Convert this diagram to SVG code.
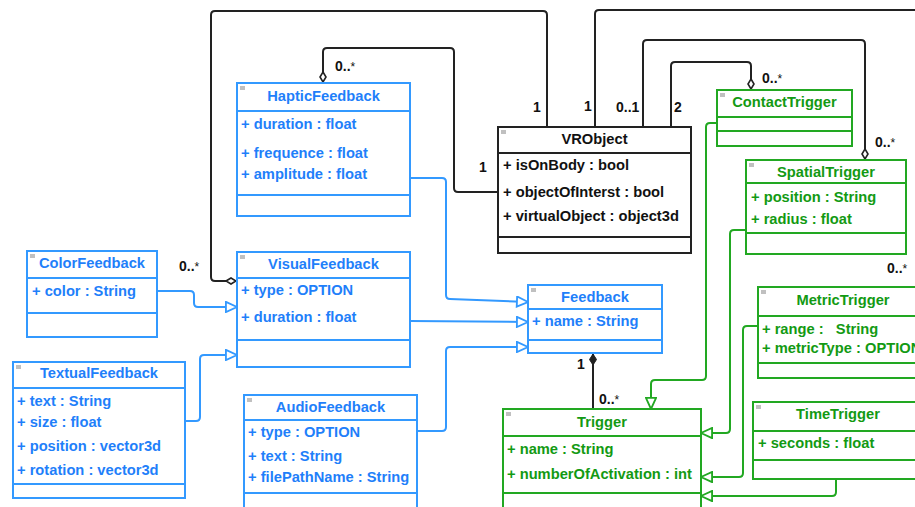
<svg xmlns="http://www.w3.org/2000/svg" width="915" height="507" viewBox="0 0 915 507">
<style>
text{font-family:"Liberation Sans",Arial,sans-serif;font-weight:bold;font-size:14.7px}
.b rect.box,.b line{stroke:#3399ff;stroke-width:2;fill:#fff}
.g rect.box,.g line{stroke:#22a822;stroke-width:2;fill:#fff}
.k rect.box,.k line{stroke:#222;stroke-width:2;fill:#fff}
.b text{fill:#1f7ffa}
.g text{fill:#139a13}
.k text{fill:#111}
.t{text-anchor:middle}
.ic{fill:#c0c0c0;stroke:none}
.cb{fill:none;stroke:#3399ff;stroke-width:2}
.cg{fill:none;stroke:#22a822;stroke-width:2}
.ck{fill:none;stroke:#222;stroke-width:2}
.m{font-size:14px;fill:#111}
.m tspan{font-weight:normal;font-size:12px}
</style>
<defs>
<marker id="tb" markerUnits="userSpaceOnUse" markerWidth="14" markerHeight="12" refX="12" refY="5.5" orient="auto" viewBox="-1 -1 14 13"><path d="M0,0 L12,5.5 L0,11 Z" fill="#fff" stroke="#3399ff" stroke-width="2"/></marker>
<marker id="tg" markerUnits="userSpaceOnUse" markerWidth="14" markerHeight="12" refX="12" refY="5.5" orient="auto" viewBox="-1 -1 14 13"><path d="M0,0 L12,5.5 L0,11 Z" fill="#fff" stroke="#22a822" stroke-width="2"/></marker>
<marker id="dh" markerUnits="userSpaceOnUse" markerWidth="12" markerHeight="8" refX="10" refY="3" orient="auto" viewBox="-1 -1 12 8"><path d="M0,3 L5,0 L10,3 L5,6 Z" fill="#fff" stroke="#222" stroke-width="1.6"/></marker>
<marker id="df" markerUnits="userSpaceOnUse" markerWidth="13" markerHeight="9" refX="11" refY="3.5" orient="auto" viewBox="-1 -1 13 9"><path d="M0,3.5 L5.5,0 L11,3.5 L5.5,7 Z" fill="#222" stroke="#222" stroke-width="1"/></marker>
</defs>

<g id="connectors">
<path class="ck" d="M547,127 V15 Q547,11 543,11 H215 Q211,11 211,15 V277 Q211,281 215,281 H236" marker-end="url(#dh)"/>
<path class="ck" d="M498,192 H458 Q454,192 454,188 V52 Q454,48 450,48 H327 Q323,48 323,52 V82" marker-end="url(#dh)"/>
<path class="ck" d="M595,127 V14 Q595,10 599,10 H915"/>
<path class="ck" d="M643,127 V44 Q643,40 647,40 H861 Q865,40 865,44 V159" marker-end="url(#dh)"/>
<path class="ck" d="M671,127 V66 Q671,62 675,62 H747 Q751,62 751,66 V89" marker-end="url(#dh)"/>
<path class="ck" d="M593,409 V354" marker-end="url(#df)"/>
<path class="cb" d="M410,178 H442 Q446,178 446,182 V295 Q446,299 450,299 L528,302" marker-end="url(#tb)"/>
<path class="cb" d="M410,321 L528,322" marker-end="url(#tb)"/>
<path class="cb" d="M417,431 H442 Q446,431 446,427 V351 Q446,347 450,347 H528" marker-end="url(#tb)"/>
<path class="cb" d="M157,291 H190 Q194,291 194,295 V303 Q194,307 198,307 H237" marker-end="url(#tb)"/>
<path class="cb" d="M185,421 H196 Q200,421 200,417 V359 Q200,355 204,355 H237" marker-end="url(#tb)"/>
<path class="cg" d="M717,123 H710 Q706,123 706,127 V376 Q706,380 702,380 H655 Q651,380 651,384 V409" marker-end="url(#tg)"/>
<path class="cg" d="M746,230 H734 Q730,230 730,234 V429 Q730,433 726,433 H701" marker-end="url(#tg)"/>
<path class="cg" d="M758,326 H747 Q743,326 743,330 V473 Q743,477 739,477 H701" marker-end="url(#tg)"/>
<path class="cg" d="M836,479 V492 Q836,496 832,496 H701" marker-end="url(#tg)"/>
<text class="m" x="335" y="71">0..<tspan>*</tspan></text>
<text class="m t" x="483" y="172">1</text>
<text class="m t" x="537" y="112">1</text>
<text class="m t" x="588" y="111">1</text>
<text class="m" x="616" y="112">0..1</text>
<text class="m t" x="678" y="112">2</text>
<text class="m" x="762" y="83">0..<tspan>*</tspan></text>
<text class="m" x="875" y="147">0..<tspan>*</tspan></text>
<text class="m" x="887" y="273">0..<tspan>*</tspan></text>
<text class="m" x="179" y="271">0..<tspan>*</tspan></text>
<text class="m t" x="581" y="369">1</text>
<text class="m" x="599" y="404">0..<tspan>*</tspan></text>
</g>

<g id="HapticFeedback" class="b">
<rect class="box" x="237" y="83" width="173" height="133"/>
<line x1="237" y1="111" x2="410" y2="111"/><line x1="237" y1="195" x2="410" y2="195"/>
<rect class="ic" x="240" y="86" width="5" height="4"/>
<text class="t" x="323.5" y="101">HapticFeedback</text>
<text x="241" y="129">+ duration : float</text>
<text x="241" y="158">+ frequence : float</text>
<text x="241" y="179">+ amplitude : float</text>
</g>

<g id="VisualFeedback" class="b">
<rect class="box" x="237" y="252" width="173" height="115"/>
<line x1="237" y1="278" x2="410" y2="278"/><line x1="237" y1="340" x2="410" y2="340"/>
<rect class="ic" x="240" y="255" width="5" height="4"/>
<text class="t" x="323.5" y="269">VisualFeedback</text>
<text x="241" y="295">+ type : OPTION</text>
<text x="241" y="322">+ duration : float</text>
</g>

<g id="AudioFeedback" class="b">
<rect class="box" x="244" y="395" width="173" height="125"/>
<line x1="244" y1="420" x2="417" y2="420"/><line x1="244" y1="493" x2="417" y2="493"/>
<rect class="ic" x="247" y="398" width="5" height="4"/>
<text class="t" x="330.5" y="412">AudioFeedback</text>
<text x="248" y="437">+ type : OPTION</text>
<text x="248" y="461">+ text : String</text>
<text x="248" y="482">+ filePathName : String</text>
</g>

<g id="ColorFeedback" class="b">
<rect class="box" x="27" y="251" width="130" height="86"/>
<line x1="27" y1="278" x2="157" y2="278"/><line x1="27" y1="313" x2="157" y2="313"/>
<rect class="ic" x="30" y="254" width="5" height="4"/>
<text class="t" x="92" y="268">ColorFeedback</text>
<text x="32" y="296">+ color : String</text>
</g>

<g id="TextualFeedback" class="b">
<rect class="box" x="13" y="362" width="172" height="136"/>
<line x1="13" y1="388" x2="185" y2="388"/><line x1="13" y1="484" x2="185" y2="484"/>
<rect class="ic" x="16" y="365" width="5" height="4"/>
<text class="t" x="99" y="378">TextualFeedback</text>
<text x="17" y="406">+ text : String</text>
<text x="17" y="427">+ size : float</text>
<text x="17" y="451">+ position : vector3d</text>
<text x="17" y="475">+ rotation : vector3d</text>
</g>

<g id="Feedback" class="b">
<rect class="box" x="528" y="285" width="134" height="68"/>
<line x1="528" y1="309" x2="662" y2="309"/><line x1="528" y1="340" x2="662" y2="340"/>
<rect class="ic" x="531" y="288" width="5" height="4"/>
<text class="t" x="595" y="302">Feedback</text>
<text x="532" y="326">+ name : String</text>
</g>

<g id="VRObject" class="k">
<rect class="box" x="498" y="127" width="193" height="126"/>
<line x1="498" y1="153" x2="691" y2="153"/><line x1="498" y1="237" x2="691" y2="237"/>
<rect class="ic" x="501" y="130" width="5" height="4"/>
<text class="t" x="594.5" y="144">VRObject</text>
<text x="503" y="170">+ isOnBody : bool</text>
<text x="503" y="197">+ objectOfInterst : bool</text>
<text x="503" y="221">+ virtualObject : object3d</text>
</g>

<g id="ContactTrigger" class="g">
<rect class="box" x="717" y="90" width="135" height="56"/>
<line x1="717" y1="117" x2="852" y2="117"/><line x1="717" y1="131" x2="852" y2="131"/>
<rect class="ic" x="720" y="93" width="5" height="4"/>
<text class="t" x="784.5" y="107">ContactTrigger</text>
</g>

<g id="SpatialTrigger" class="g">
<rect class="box" x="746" y="160" width="160" height="94"/>
<line x1="746" y1="183" x2="906" y2="183"/><line x1="746" y1="233" x2="906" y2="233"/>
<rect class="ic" x="749" y="163" width="5" height="4"/>
<text class="t" x="826" y="177">SpatialTrigger</text>
<text x="751" y="202">+ position : String</text>
<text x="751" y="224">+ radius : float</text>
</g>

<g id="MetricTrigger" class="g">
<rect class="box" x="758" y="287" width="170" height="91"/>
<line x1="758" y1="316" x2="928" y2="316"/><line x1="758" y1="363" x2="928" y2="363"/>
<rect class="ic" x="761" y="290" width="5" height="4"/>
<text class="t" x="843" y="305">MetricTrigger</text>
<text x="762" y="334" style="white-space:pre">+ range :   String</text>
<text x="762" y="353">+ metricType : OPTION</text>
</g>

<g id="TimeTrigger" class="g">
<rect class="box" x="753" y="402" width="170" height="77"/>
<line x1="753" y1="431" x2="923" y2="431"/><line x1="753" y1="460" x2="923" y2="460"/>
<rect class="ic" x="756" y="405" width="5" height="4"/>
<text class="t" x="838" y="419">TimeTrigger</text>
<text x="758" y="448">+ seconds : float</text>
</g>

<g id="Trigger" class="g">
<rect class="box" x="503" y="409" width="198" height="110"/>
<line x1="503" y1="436" x2="701" y2="436"/><line x1="503" y1="493" x2="701" y2="493"/>
<rect class="ic" x="506" y="412" width="5" height="4"/>
<text class="t" x="602" y="427">Trigger</text>
<text x="507" y="454">+ name : String</text>
<text x="507" y="479">+ numberOfActivation : int</text>
</g>
</svg>
